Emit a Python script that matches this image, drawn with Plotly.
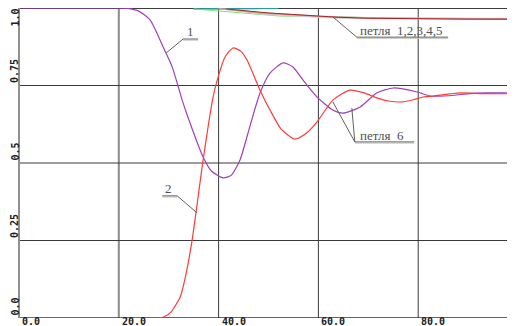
import plotly.graph_objects as go

# ---- данные ----
x_ticks = [0, 20, 40, 60, 80]
x_tick_text = ["0.0", "20.0", "40.0", "60.0", "80.0"]
y_ticks = [0, 0.25, 0.5, 0.75, 1.0]
y_tick_text = ["0.0", "0.25", "0.5", "0.75", "1.0"]

# кривая 1 (петля 6, фиолетовая)
x1 = [0, 20, 22, 24, 26.3, 28.9, 30.7, 32.7, 33.7, 36.9, 38.5, 40.9, 42.5, 44.3,
      46.3, 48.3, 50.3, 52.9, 54.9, 56.9, 59.9, 62.9, 64.9, 68.3, 71.7, 75,
      79.8, 82.4, 86, 89.8, 93.8, 100]
y1 = [1, 1, 0.998, 0.99, 0.961, 0.874, 0.81, 0.703, 0.655, 0.519, 0.475, 0.452,
      0.46, 0.51, 0.62, 0.726, 0.79, 0.823, 0.81, 0.768, 0.71, 0.671, 0.661,
      0.68, 0.726, 0.742, 0.729, 0.716, 0.717, 0.723, 0.726, 0.726]

# кривая 2 (петля 6, красная)
x2 = [0, 28, 29, 30.5, 32.3, 33.3, 34.7, 36.9, 38.9, 39.6, 41.3, 42.9, 44.5,
      45.7, 48.3, 50.3, 52.5, 55.3, 57.5, 59.7, 62.9, 66.3, 69, 71.7, 74, 76.8,
      79, 81, 83, 88.4, 93, 100]
y2 = [0, 0, 0.003, 0.02, 0.068, 0.129, 0.252, 0.51, 0.713, 0.76, 0.842, 0.871,
      0.86, 0.832, 0.735, 0.671, 0.61, 0.577, 0.595, 0.632, 0.703, 0.735, 0.727,
      0.71, 0.7, 0.697, 0.704, 0.713, 0.716, 0.726, 0.724, 0.723]

# петли 1..5 (почти совпадают, у верхней границы)
x_teal = [35, 41, 45, 52]
y_teal = [0.997, 0.997, 0.999, 0.999]
x_green = [35, 43.3, 52.3, 64.3, 80, 100]
y_green = [0.997, 0.987, 0.974, 0.971, 0.966, 0.965]
x_gray = [41.5, 50, 60, 64, 70, 80, 90, 100]
y_gray = [0.996, 0.979, 0.971, 0.968, 0.966, 0.965, 0.964, 0.964]
x_pink = [40, 48, 60, 70, 100]
y_pink = [0.998, 0.985, 0.973, 0.968, 0.965]
x_dred = [41.5, 50, 60, 64, 70, 80, 90, 100]
y_dred = [0.997, 0.984, 0.974, 0.97, 0.967, 0.965, 0.964, 0.964]

fig = go.Figure()

fig.add_trace(go.Scatter(x=x_teal, y=y_teal, mode='lines', line=dict(color='#2a9a9a', width=1.5)))
fig.add_trace(go.Scatter(x=x_green, y=y_green, mode='lines', line=dict(color='#7ce07c', width=1)))
fig.add_trace(go.Scatter(x=x_gray, y=y_gray, mode='lines', line=dict(color='#d0d0d0', width=1.5)))
fig.add_trace(go.Scatter(x=x_pink, y=y_pink, mode='lines', line=dict(color='#d89a9a', width=1.5)))
fig.add_trace(go.Scatter(x=x_dred, y=y_dred, mode='lines', line=dict(color='#a02828', width=1)))
fig.add_trace(go.Scatter(x=x1, y=y1, mode='lines', line=dict(color='#a040b8', width=1.2, shape='spline', smoothing=0.6)))
fig.add_trace(go.Scatter(x=x2, y=y2, mode='lines', line=dict(color='#ff3a3a', width=1.2, shape='spline', smoothing=0.6)))

# сетка и рамка
shapes = []
for xv in x_ticks[1:]:
    col = '#8a8a8a' if xv == 20 else '#3a3a3a'
    w = 2 if xv == 20 else 1
    shapes.append(dict(type='line', xref='x', yref='paper', x0=xv, x1=xv, y0=0, y1=1,
                       line=dict(color=col, width=w), layer='below'))
for yv in y_ticks[1:-1]:
    shapes.append(dict(type='line', xref='paper', yref='y', x0=0, x1=1, y0=yv, y1=yv,
                       line=dict(color='#3a3a3a', width=1), layer='below'))
shapes.append(dict(type='line', xref='paper', yref='y', x0=0, x1=1, y0=1.0, y1=1.0,
                   line=dict(color='#3c3c3c', width=2), layer='below'))
shapes.append(dict(type='line', xref='paper', yref='y', x0=0, x1=1, y0=0, y1=0,
                   line=dict(color='#303030', width=1.5), layer='below'))
shapes.append(dict(type='line', xref='paper', yref='paper', x0=0, x1=0, y0=0, y1=1,
                   line=dict(color='#909090', width=2)))

# выноски: текст, позиция, подчёркивание (x0, x1, y), концы линий-выносок
lead = dict(color='#606060', width=1)
callouts = [
    ("1", 34.3, 0.925, (32.9, 35.9, 0.9), [(29.5, 0.855)]),
    ("2", 29.9, 0.418, (28.7, 31.7, 0.394), [(35.7, 0.339)]),
    ("петля  1,2,3,4,5", 67.9, 0.928, (67.7, 86.0, 0.906), [(62.9, 0.971)]),
    ("петля  6", 67.9, 0.59, (67.3, 79.2, 0.568), [(62.9, 0.697), (66.7, 0.677)]),
]
annotations = []
for text, tx, ty, (ux0, ux1, uy), ends in callouts:
    shapes.append(dict(type='line', x0=ux0, x1=ux1, y0=uy - 0.004, y1=uy - 0.004,
                       line=dict(color='#c8c8c8', width=1)))
    shapes.append(dict(type='line', x0=ux0, x1=ux1, y0=uy, y1=uy, line=lead))
    for ex, ey in ends:
        lx = ux1 if ex > ux1 else ux0
        shapes.append(dict(type='line', x0=lx, x1=ex, y0=uy, y1=ey, line=lead))
    anchor = 'center' if len(text) == 1 else 'left'
    annotations.append(dict(x=tx, y=ty, text=text, showarrow=False, xanchor=anchor, yanchor='middle',
                            font=dict(family='Liberation Serif', size=13, color='#505050')))

tick_font = dict(family='DejaVu Sans Mono', size=10, color='#202020')
for xv, t in zip(x_ticks, x_tick_text):
    annotations.append(dict(x=xv, y=0, xref='x', yref='paper', text='<b>' + t + '</b>', showarrow=False,
                            xanchor='left', yanchor='top', xshift=1, yshift=4, font=tick_font))
for yv, t in zip(y_ticks, y_tick_text):
    # подпись повернута, стоит над своей линией сетки (у 1.0 - под ней)
    if yv == 1.0:
        ya, ys = 'top', 1
    else:
        ya, ys = 'middle', len(t) * 3 + 3
    annotations.append(dict(x=0, y=yv, xref='paper', yref='y', text='<b>' + t + '</b>', showarrow=False,
                            textangle=-90, xanchor='right', yanchor=ya, xshift=2, yshift=ys,
                            borderpad=0, font=tick_font))

# страница сдвигает график на 8 px (отступ body), поэтому размер меньше на 8
fig.update_layout(
    width=507, height=318,
    margin=dict(l=11, r=0, t=0, b=8),
    paper_bgcolor='white', plot_bgcolor='white',
    showlegend=False,
    xaxis=dict(range=[0, 99.4], showgrid=False, zeroline=False, showticklabels=False, ticks=''),
    yaxis=dict(range=[0, 1.0], showgrid=False, zeroline=False, showticklabels=False, ticks=''),
    shapes=shapes,
    annotations=annotations,
)

fig.write_html("out.html")
